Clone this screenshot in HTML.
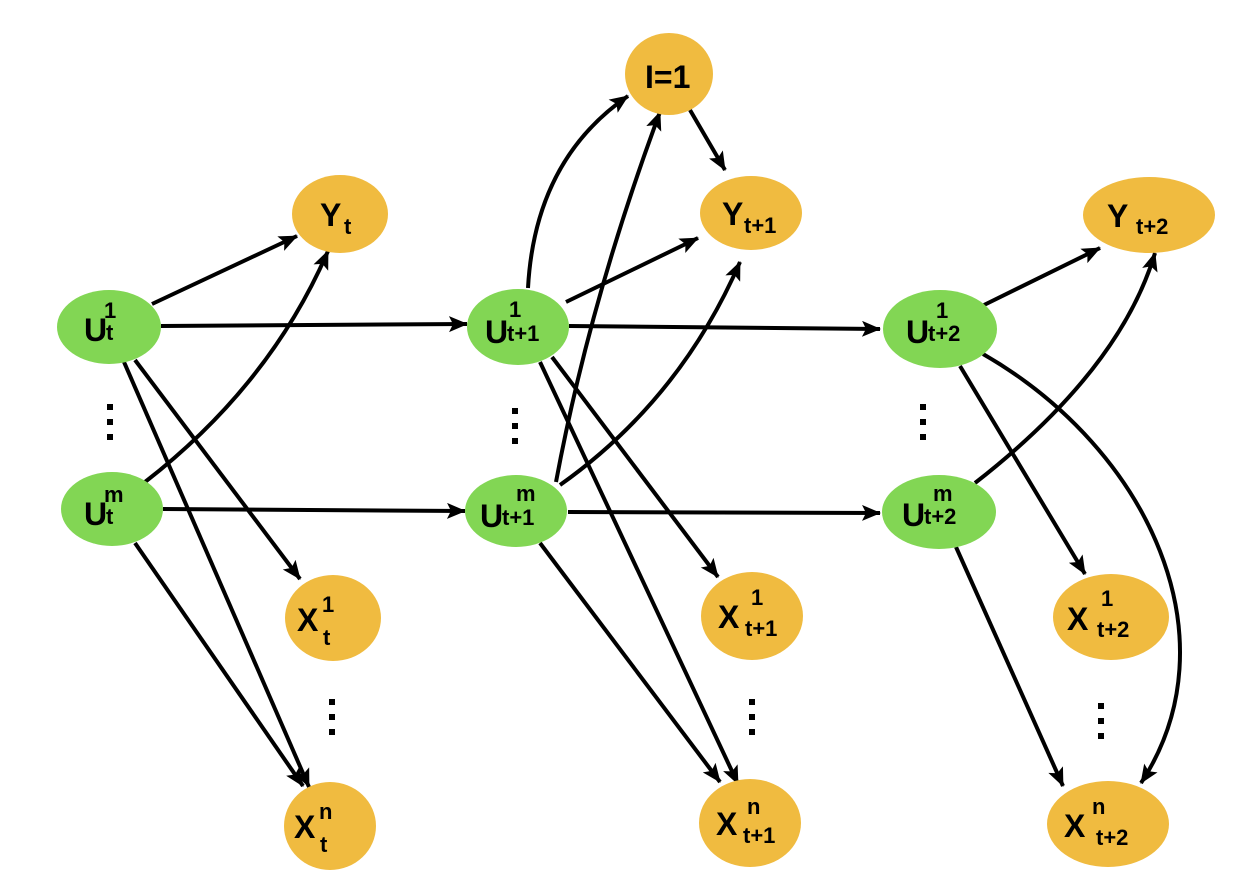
<!DOCTYPE html>
<html><head><meta charset="utf-8"><style>
html,body{margin:0;padding:0;background:#fff;}
svg{display:block;}
text{font-family:"Liberation Sans",Arial,sans-serif;font-weight:bold;fill:#000;}
.e{stroke:#000;stroke-width:4;fill:none;marker-end:url(#a);}
.g{fill:#82d654;}
.o{fill:#f0bb40;}
</style></head><body>
<svg width="1234" height="884" viewBox="0 0 1234 884" xmlns="http://www.w3.org/2000/svg">
<defs>
<marker id="a" markerUnits="userSpaceOnUse" markerWidth="20" markerHeight="18" refX="18" refY="8" orient="auto">
<path d="M0,0 L19,8 L0,16 L4,8 z" fill="#000"/>
</marker>
</defs>
<!-- edges -->
<path class="e" d="M152,304 L297,236"/>
<path class="e" d="M161,326 L467,324"/>
<path class="e" d="M135,360 L300,579"/>
<path class="e" d="M124,362 L309,787"/>
<path class="e" d="M135,543 L303,786"/>
<path class="e" d="M145,482 Q270,385 328,251"/>
<path class="e" d="M163,509 L465,511"/>
<path class="e" d="M528,288 Q535,160 628,96"/>
<path class="e" d="M556,482 Q590,300 660,112"/>
<path class="e" d="M566,302 L698,238"/>
<path class="e" d="M560,485 Q680,400 740,262"/>
<path class="e" d="M690,110 L725,170"/>
<path class="e" d="M569,326 L880,329"/>
<path class="e" d="M568,512 L880,513"/>
<path class="e" d="M552,357 L718,577"/>
<path class="e" d="M540,362 L738,784"/>
<path class="e" d="M540,543 L720,782"/>
<path class="e" d="M984,305 L1100,248"/>
<path class="e" d="M975,483 Q1120,370 1155,253"/>
<path class="e" d="M960,366 L1085,574"/>
<path class="e" d="M983,354 C1150,450 1235,640 1141,783"/>
<path class="e" d="M956,547 L1063,786"/>
<!-- nodes -->
<ellipse class="o" cx="340" cy="214" rx="48" ry="39"/>
<ellipse class="o" cx="669" cy="74" rx="44" ry="41"/>
<ellipse class="o" cx="751" cy="213" rx="51" ry="37"/>
<ellipse class="o" cx="1149" cy="215" rx="66" ry="38"/>
<ellipse class="g" cx="109" cy="327" rx="52" ry="37"/>
<ellipse class="g" cx="112" cy="509" rx="51" ry="37"/>
<ellipse class="g" cx="518" cy="327" rx="51" ry="38"/>
<ellipse class="g" cx="516" cy="511" rx="51" ry="36"/>
<ellipse class="g" cx="940" cy="329" rx="57" ry="39"/>
<ellipse class="g" cx="939" cy="512" rx="57" ry="37"/>
<ellipse class="o" cx="333" cy="618" rx="48" ry="43"/>
<ellipse class="o" cx="330" cy="826" rx="46" ry="44"/>
<ellipse class="o" cx="752" cy="616" rx="51" ry="44"/>
<ellipse class="o" cx="750" cy="823" rx="51" ry="44"/>
<ellipse class="o" cx="1111" cy="617" rx="58" ry="43"/>
<ellipse class="o" cx="1108" cy="824" rx="61" ry="43"/>
<!-- labels -->
<text x="320" y="226" font-size="32">Y</text><text x="344" y="234" font-size="22">t</text>
<text x="645" y="88" font-size="32">I=1</text>
<text x="722" y="225" font-size="32">Y</text><text x="744" y="233" font-size="22">t+1</text>
<text x="1107" y="227" font-size="32">Y</text><text x="1136" y="234" font-size="22">t+2</text>

<text x="84" y="341" font-size="32">U</text><text x="106" y="340" font-size="22">t</text><text x="104" y="318" font-size="22">1</text>
<text x="84" y="525" font-size="32">U</text><text x="106" y="524" font-size="22">t</text><text x="104" y="502" font-size="22">m</text>
<text x="485" y="343" font-size="32">U</text><text x="507" y="341" font-size="22">t+1</text><text x="509" y="317" font-size="22">1</text>
<text x="480" y="527" font-size="32">U</text><text x="502" y="525" font-size="22">t+1</text><text x="516" y="501" font-size="22">m</text>
<text x="906" y="343" font-size="32">U</text><text x="928" y="341" font-size="22">t+2</text><text x="936" y="318" font-size="22">1</text>
<text x="902" y="526" font-size="32">U</text><text x="924" y="524" font-size="22">t+2</text><text x="933" y="501" font-size="22">m</text>

<text x="297" y="631" font-size="32">X</text><text x="323" y="645" font-size="22">t</text><text x="322" y="612" font-size="22">1</text>
<text x="294" y="838" font-size="32">X</text><text x="320" y="852" font-size="22">t</text><text x="319" y="819" font-size="22">n</text>
<text x="718" y="628" font-size="32">X</text><text x="745" y="636" font-size="22">t+1</text><text x="751" y="605" font-size="22">1</text>
<text x="716" y="835" font-size="32">X</text><text x="743" y="843" font-size="22">t+1</text><text x="747" y="814" font-size="22">n</text>
<text x="1067" y="630" font-size="32">X</text><text x="1097" y="637" font-size="22">t+2</text><text x="1101" y="606" font-size="22">1</text>
<text x="1064" y="837" font-size="32">X</text><text x="1096" y="845" font-size="22">t+2</text><text x="1092" y="814" font-size="22">n</text>
<!-- dots -->
<g fill="#000">
<rect x="107" y="404" width="6" height="6"/><rect x="107" y="419" width="6" height="6"/><rect x="107" y="434" width="6" height="6"/>
<rect x="512" y="408" width="6" height="6"/><rect x="512" y="423" width="6" height="6"/><rect x="512" y="438" width="6" height="6"/>
<rect x="920" y="404" width="6" height="6"/><rect x="920" y="419" width="6" height="6"/><rect x="920" y="434" width="6" height="6"/>
<rect x="329" y="699" width="6" height="6"/><rect x="329" y="714" width="6" height="6"/><rect x="329" y="729" width="6" height="6"/>
<rect x="749" y="699" width="6" height="6"/><rect x="749" y="714" width="6" height="6"/><rect x="749" y="729" width="6" height="6"/>
<rect x="1098" y="703" width="6" height="6"/><rect x="1098" y="718" width="6" height="6"/><rect x="1098" y="733" width="6" height="6"/>
</g>
</svg>
</body></html>
